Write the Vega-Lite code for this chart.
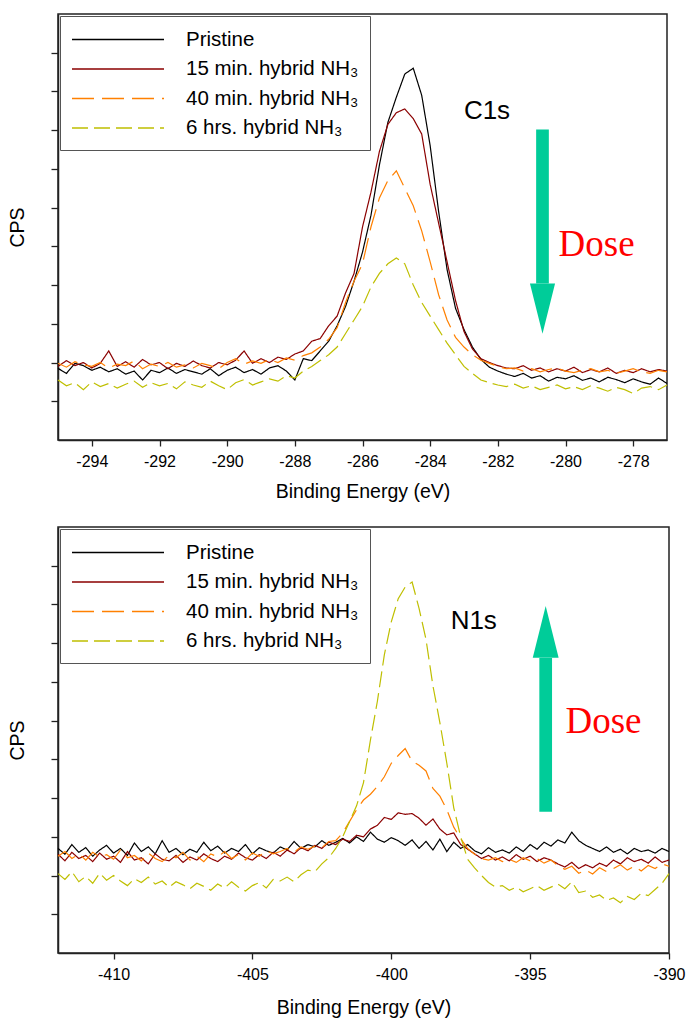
{
"$schema": "https://vega.github.io/schema/vega-lite/v6.json",
"padding": {"left": 6, "top": 13, "right": 0, "bottom": 0},
"spacing": 24,
"config": {
 "font": "Liberation Sans",
 "view": {"stroke": "#222", "strokeWidth": 1.5},
 "axis": {"domainColor": "#222", "domainWidth": 1.5, "tickColor": "#222", "tickWidth": 1.3, "labelColor": "black", "titleColor": "black", "labelFont": "Liberation Sans", "titleFont": "Liberation Sans", "titleFontWeight": "normal", "grid": false, "labelFontSize": 16, "titleFontSize": 19.5},
 "legend": {"orient": "top-left", "offset": 2, "symbolType": "M-1,0L7,0", "symbolSize": 529, "symbolStrokeWidth": 1.5, "labelFontSize": 20.5, "labelFont": "Liberation Sans", "labelColor": "black", "labelOffset": 90, "labelLimit": 400, "padding": 11, "rowPadding": 6.5, "fillColor": "white", "strokeColor": "#555"}
},
"datasets": {
 "c1s": [
{"s":"a","x":-295,"y":1.85},{"s":"a","x":-294.75,"y":1.72},{"s":"a","x":-294.5,"y":1.98},{"s":"a","x":-294.25,"y":1.92},{"s":"a","x":-294,"y":1.80},{"s":"a","x":-293.75,"y":1.88},{"s":"a","x":-293.5,"y":1.76},{"s":"a","x":-293.25,"y":1.84},{"s":"a","x":-293,"y":1.70},{"s":"a","x":-292.75,"y":1.78},{"s":"a","x":-292.5,"y":1.55},{"s":"a","x":-292.25,"y":1.80},{"s":"a","x":-292,"y":1.74},{"s":"a","x":-291.75,"y":1.86},{"s":"a","x":-291.5,"y":1.72},{"s":"a","x":-291.25,"y":1.82},{"s":"a","x":-291,"y":1.76},{"s":"a","x":-290.75,"y":1.70},{"s":"a","x":-290.5,"y":1.84},{"s":"a","x":-290.25,"y":1.66},{"s":"a","x":-290,"y":1.80},{"s":"a","x":-289.75,"y":1.88},{"s":"a","x":-289.5,"y":1.74},{"s":"a","x":-289.25,"y":1.82},{"s":"a","x":-289,"y":1.70},{"s":"a","x":-288.75,"y":1.86},{"s":"a","x":-288.5,"y":1.92},{"s":"a","x":-288.25,"y":1.78},{"s":"a","x":-288,"y":1.55},{"s":"a","x":-287.75,"y":2.10},{"s":"a","x":-287.5,"y":2.05},{"s":"a","x":-287.25,"y":2.30},{"s":"a","x":-287,"y":2.55},{"s":"a","x":-286.75,"y":2.95},{"s":"a","x":-286.5,"y":3.45},{"s":"a","x":-286.25,"y":4.10},{"s":"a","x":-286,"y":4.85},{"s":"a","x":-285.75,"y":5.80},{"s":"a","x":-285.5,"y":7.10},{"s":"a","x":-285.25,"y":8.20},{"s":"a","x":-285,"y":8.85},{"s":"a","x":-284.75,"y":9.45},{"s":"a","x":-284.5,"y":9.60},{"s":"a","x":-284.25,"y":8.90},{"s":"a","x":-284,"y":7.60},{"s":"a","x":-283.75,"y":5.90},{"s":"a","x":-283.5,"y":4.40},{"s":"a","x":-283.25,"y":3.40},{"s":"a","x":-283,"y":2.85},{"s":"a","x":-282.75,"y":2.40},{"s":"a","x":-282.5,"y":2.08},{"s":"a","x":-282.25,"y":1.88},{"s":"a","x":-282,"y":1.78},{"s":"a","x":-281.75,"y":1.70},{"s":"a","x":-281.5,"y":1.64},{"s":"a","x":-281.25,"y":1.72},{"s":"a","x":-281,"y":1.60},{"s":"a","x":-280.75,"y":1.66},{"s":"a","x":-280.5,"y":1.52},{"s":"a","x":-280.25,"y":1.62},{"s":"a","x":-280,"y":1.58},{"s":"a","x":-279.75,"y":1.66},{"s":"a","x":-279.5,"y":1.54},{"s":"a","x":-279.25,"y":1.60},{"s":"a","x":-279,"y":1.50},{"s":"a","x":-278.75,"y":1.62},{"s":"a","x":-278.5,"y":1.56},{"s":"a","x":-278.25,"y":1.48},{"s":"a","x":-278,"y":1.58},{"s":"a","x":-277.75,"y":1.50},{"s":"a","x":-277.5,"y":1.44},{"s":"a","x":-277.25,"y":1.60},{"s":"a","x":-277,"y":1.46},
{"s":"b","x":-295,"y":1.90},{"s":"b","x":-294.75,"y":2.05},{"s":"b","x":-294.5,"y":1.92},{"s":"b","x":-294.25,"y":2.00},{"s":"b","x":-294,"y":1.86},{"s":"b","x":-293.75,"y":1.98},{"s":"b","x":-293.5,"y":2.30},{"s":"b","x":-293.25,"y":1.90},{"s":"b","x":-293,"y":2.02},{"s":"b","x":-292.75,"y":1.88},{"s":"b","x":-292.5,"y":2.08},{"s":"b","x":-292.25,"y":1.94},{"s":"b","x":-292,"y":2.00},{"s":"b","x":-291.75,"y":1.84},{"s":"b","x":-291.5,"y":1.98},{"s":"b","x":-291.25,"y":1.90},{"s":"b","x":-291,"y":2.04},{"s":"b","x":-290.75,"y":1.92},{"s":"b","x":-290.5,"y":1.86},{"s":"b","x":-290.25,"y":2.00},{"s":"b","x":-290,"y":1.94},{"s":"b","x":-289.75,"y":2.06},{"s":"b","x":-289.5,"y":2.30},{"s":"b","x":-289.25,"y":1.98},{"s":"b","x":-289,"y":2.10},{"s":"b","x":-288.75,"y":2.00},{"s":"b","x":-288.5,"y":2.14},{"s":"b","x":-288.25,"y":2.08},{"s":"b","x":-288,"y":2.22},{"s":"b","x":-287.75,"y":2.30},{"s":"b","x":-287.5,"y":2.55},{"s":"b","x":-287.25,"y":2.62},{"s":"b","x":-287,"y":2.95},{"s":"b","x":-286.75,"y":3.20},{"s":"b","x":-286.5,"y":3.80},{"s":"b","x":-286.25,"y":4.30},{"s":"b","x":-286,"y":5.50},{"s":"b","x":-285.75,"y":6.40},{"s":"b","x":-285.5,"y":7.45},{"s":"b","x":-285.25,"y":8.15},{"s":"b","x":-285,"y":8.45},{"s":"b","x":-284.75,"y":8.55},{"s":"b","x":-284.5,"y":8.30},{"s":"b","x":-284.25,"y":7.90},{"s":"b","x":-284,"y":6.60},{"s":"b","x":-283.75,"y":5.60},{"s":"b","x":-283.5,"y":4.60},{"s":"b","x":-283.25,"y":3.60},{"s":"b","x":-283,"y":2.80},{"s":"b","x":-282.75,"y":2.35},{"s":"b","x":-282.5,"y":2.10},{"s":"b","x":-282.25,"y":2.00},{"s":"b","x":-282,"y":1.92},{"s":"b","x":-281.75,"y":1.86},{"s":"b","x":-281.5,"y":1.84},{"s":"b","x":-281.25,"y":1.92},{"s":"b","x":-281,"y":1.80},{"s":"b","x":-280.75,"y":1.86},{"s":"b","x":-280.5,"y":1.76},{"s":"b","x":-280.25,"y":1.84},{"s":"b","x":-280,"y":1.78},{"s":"b","x":-279.75,"y":1.88},{"s":"b","x":-279.5,"y":1.74},{"s":"b","x":-279.25,"y":1.82},{"s":"b","x":-279,"y":1.76},{"s":"b","x":-278.75,"y":1.86},{"s":"b","x":-278.5,"y":1.72},{"s":"b","x":-278.25,"y":1.80},{"s":"b","x":-278,"y":1.74},{"s":"b","x":-277.75,"y":1.84},{"s":"b","x":-277.5,"y":1.76},{"s":"b","x":-277.25,"y":1.82},{"s":"b","x":-277,"y":1.78},
{"s":"c","x":-295,"y":1.98},{"s":"c","x":-294.75,"y":1.88},{"s":"c","x":-294.5,"y":2.02},{"s":"c","x":-294.25,"y":1.94},{"s":"c","x":-294,"y":1.90},{"s":"c","x":-293.75,"y":2.00},{"s":"c","x":-293.5,"y":1.86},{"s":"c","x":-293.25,"y":1.96},{"s":"c","x":-293,"y":1.92},{"s":"c","x":-292.75,"y":2.04},{"s":"c","x":-292.5,"y":1.84},{"s":"c","x":-292.25,"y":1.96},{"s":"c","x":-292,"y":1.90},{"s":"c","x":-291.75,"y":2.00},{"s":"c","x":-291.5,"y":1.88},{"s":"c","x":-291.25,"y":1.94},{"s":"c","x":-291,"y":1.86},{"s":"c","x":-290.75,"y":1.98},{"s":"c","x":-290.5,"y":1.92},{"s":"c","x":-290.25,"y":1.84},{"s":"c","x":-290,"y":2.00},{"s":"c","x":-289.75,"y":2.10},{"s":"c","x":-289.5,"y":1.96},{"s":"c","x":-289.25,"y":2.04},{"s":"c","x":-289,"y":1.98},{"s":"c","x":-288.75,"y":2.08},{"s":"c","x":-288.5,"y":2.00},{"s":"c","x":-288.25,"y":2.12},{"s":"c","x":-288,"y":2.06},{"s":"c","x":-287.75,"y":2.18},{"s":"c","x":-287.5,"y":2.25},{"s":"c","x":-287.25,"y":2.40},{"s":"c","x":-287,"y":2.60},{"s":"c","x":-286.75,"y":2.90},{"s":"c","x":-286.5,"y":3.55},{"s":"c","x":-286.25,"y":4.10},{"s":"c","x":-286,"y":4.55},{"s":"c","x":-285.75,"y":5.50},{"s":"c","x":-285.5,"y":6.25},{"s":"c","x":-285.25,"y":6.70},{"s":"c","x":-285,"y":6.95},{"s":"c","x":-284.75,"y":6.50},{"s":"c","x":-284.5,"y":6.05},{"s":"c","x":-284.25,"y":5.40},{"s":"c","x":-284,"y":4.60},{"s":"c","x":-283.75,"y":3.75},{"s":"c","x":-283.5,"y":3.10},{"s":"c","x":-283.25,"y":2.65},{"s":"c","x":-283,"y":2.40},{"s":"c","x":-282.75,"y":2.20},{"s":"c","x":-282.5,"y":2.06},{"s":"c","x":-282.25,"y":1.98},{"s":"c","x":-282,"y":1.90},{"s":"c","x":-281.75,"y":1.84},{"s":"c","x":-281.5,"y":1.86},{"s":"c","x":-281.25,"y":1.78},{"s":"c","x":-281,"y":1.84},{"s":"c","x":-280.75,"y":1.76},{"s":"c","x":-280.5,"y":1.82},{"s":"c","x":-280.25,"y":1.86},{"s":"c","x":-280,"y":1.78},{"s":"c","x":-279.75,"y":1.74},{"s":"c","x":-279.5,"y":1.80},{"s":"c","x":-279.25,"y":1.84},{"s":"c","x":-279,"y":1.76},{"s":"c","x":-278.75,"y":1.80},{"s":"c","x":-278.5,"y":1.72},{"s":"c","x":-278.25,"y":1.78},{"s":"c","x":-278,"y":1.84},{"s":"c","x":-277.75,"y":1.76},{"s":"c","x":-277.5,"y":1.72},{"s":"c","x":-277.25,"y":1.80},{"s":"c","x":-277,"y":1.76},
{"s":"d","x":-295,"y":1.55},{"s":"d","x":-294.75,"y":1.40},{"s":"d","x":-294.5,"y":1.48},{"s":"d","x":-294.25,"y":1.30},{"s":"d","x":-294,"y":1.50},{"s":"d","x":-293.75,"y":1.38},{"s":"d","x":-293.5,"y":1.46},{"s":"d","x":-293.25,"y":1.34},{"s":"d","x":-293,"y":1.44},{"s":"d","x":-292.75,"y":1.52},{"s":"d","x":-292.5,"y":1.36},{"s":"d","x":-292.25,"y":1.48},{"s":"d","x":-292,"y":1.40},{"s":"d","x":-291.75,"y":1.46},{"s":"d","x":-291.5,"y":1.32},{"s":"d","x":-291.25,"y":1.50},{"s":"d","x":-291,"y":1.42},{"s":"d","x":-290.75,"y":1.36},{"s":"d","x":-290.5,"y":1.52},{"s":"d","x":-290.25,"y":1.40},{"s":"d","x":-290,"y":1.30},{"s":"d","x":-289.75,"y":1.48},{"s":"d","x":-289.5,"y":1.56},{"s":"d","x":-289.25,"y":1.42},{"s":"d","x":-289,"y":1.50},{"s":"d","x":-288.75,"y":1.58},{"s":"d","x":-288.5,"y":1.52},{"s":"d","x":-288.25,"y":1.66},{"s":"d","x":-288,"y":1.60},{"s":"d","x":-287.75,"y":1.78},{"s":"d","x":-287.5,"y":1.90},{"s":"d","x":-287.25,"y":2.05},{"s":"d","x":-287,"y":2.20},{"s":"d","x":-286.75,"y":2.40},{"s":"d","x":-286.5,"y":2.75},{"s":"d","x":-286.25,"y":3.10},{"s":"d","x":-286,"y":3.45},{"s":"d","x":-285.75,"y":3.95},{"s":"d","x":-285.5,"y":4.30},{"s":"d","x":-285.25,"y":4.55},{"s":"d","x":-285,"y":4.70},{"s":"d","x":-284.75,"y":4.55},{"s":"d","x":-284.5,"y":4.00},{"s":"d","x":-284.25,"y":3.55},{"s":"d","x":-284,"y":3.20},{"s":"d","x":-283.75,"y":2.85},{"s":"d","x":-283.5,"y":2.50},{"s":"d","x":-283.25,"y":2.20},{"s":"d","x":-283,"y":1.90},{"s":"d","x":-282.75,"y":1.72},{"s":"d","x":-282.5,"y":1.55},{"s":"d","x":-282.25,"y":1.48},{"s":"d","x":-282,"y":1.42},{"s":"d","x":-281.75,"y":1.38},{"s":"d","x":-281.5,"y":1.44},{"s":"d","x":-281.25,"y":1.34},{"s":"d","x":-281,"y":1.40},{"s":"d","x":-280.75,"y":1.30},{"s":"d","x":-280.5,"y":1.36},{"s":"d","x":-280.25,"y":1.42},{"s":"d","x":-280,"y":1.32},{"s":"d","x":-279.75,"y":1.38},{"s":"d","x":-279.5,"y":1.30},{"s":"d","x":-279.25,"y":1.40},{"s":"d","x":-279,"y":1.34},{"s":"d","x":-278.75,"y":1.26},{"s":"d","x":-278.5,"y":1.36},{"s":"d","x":-278.25,"y":1.30},{"s":"d","x":-278,"y":1.20},{"s":"d","x":-277.75,"y":1.34},{"s":"d","x":-277.5,"y":1.38},{"s":"d","x":-277.25,"y":1.30},{"s":"d","x":-277,"y":1.42}
 ],
 "n1s": [
{"s":"a","x":-412,"y":2.70},{"s":"a","x":-411.75,"y":2.55},{"s":"a","x":-411.5,"y":2.80},{"s":"a","x":-411.25,"y":2.60},{"s":"a","x":-411,"y":2.72},{"s":"a","x":-410.75,"y":2.50},{"s":"a","x":-410.5,"y":2.66},{"s":"a","x":-410.25,"y":2.78},{"s":"a","x":-410,"y":2.58},{"s":"a","x":-409.75,"y":2.70},{"s":"a","x":-409.5,"y":2.52},{"s":"a","x":-409.25,"y":2.84},{"s":"a","x":-409,"y":2.62},{"s":"a","x":-408.75,"y":2.74},{"s":"a","x":-408.5,"y":2.56},{"s":"a","x":-408.25,"y":2.90},{"s":"a","x":-408,"y":2.60},{"s":"a","x":-407.75,"y":2.70},{"s":"a","x":-407.5,"y":2.54},{"s":"a","x":-407.25,"y":2.68},{"s":"a","x":-407,"y":2.60},{"s":"a","x":-406.75,"y":2.86},{"s":"a","x":-406.5,"y":2.64},{"s":"a","x":-406.25,"y":2.76},{"s":"a","x":-406,"y":2.58},{"s":"a","x":-405.75,"y":2.70},{"s":"a","x":-405.5,"y":2.62},{"s":"a","x":-405.25,"y":2.80},{"s":"a","x":-405,"y":2.56},{"s":"a","x":-404.75,"y":2.72},{"s":"a","x":-404.5,"y":2.64},{"s":"a","x":-404.25,"y":2.58},{"s":"a","x":-404,"y":2.74},{"s":"a","x":-403.75,"y":2.66},{"s":"a","x":-403.5,"y":2.88},{"s":"a","x":-403.25,"y":2.70},{"s":"a","x":-403,"y":2.80},{"s":"a","x":-402.75,"y":2.74},{"s":"a","x":-402.5,"y":2.90},{"s":"a","x":-402.25,"y":2.78},{"s":"a","x":-402,"y":2.86},{"s":"a","x":-401.75,"y":2.96},{"s":"a","x":-401.5,"y":2.84},{"s":"a","x":-401.25,"y":3.00},{"s":"a","x":-401,"y":2.88},{"s":"a","x":-400.75,"y":3.12},{"s":"a","x":-400.5,"y":2.94},{"s":"a","x":-400.25,"y":2.86},{"s":"a","x":-400,"y":2.98},{"s":"a","x":-399.75,"y":2.90},{"s":"a","x":-399.5,"y":2.78},{"s":"a","x":-399.25,"y":2.92},{"s":"a","x":-399,"y":2.70},{"s":"a","x":-398.75,"y":2.88},{"s":"a","x":-398.5,"y":2.66},{"s":"a","x":-398.25,"y":2.94},{"s":"a","x":-398,"y":2.62},{"s":"a","x":-397.75,"y":2.86},{"s":"a","x":-397.5,"y":2.70},{"s":"a","x":-397.25,"y":2.80},{"s":"a","x":-397,"y":2.64},{"s":"a","x":-396.75,"y":2.56},{"s":"a","x":-396.5,"y":2.72},{"s":"a","x":-396.25,"y":2.60},{"s":"a","x":-396,"y":2.66},{"s":"a","x":-395.75,"y":2.58},{"s":"a","x":-395.5,"y":2.74},{"s":"a","x":-395.25,"y":2.62},{"s":"a","x":-395,"y":2.80},{"s":"a","x":-394.75,"y":2.68},{"s":"a","x":-394.5,"y":2.86},{"s":"a","x":-394.25,"y":2.76},{"s":"a","x":-394,"y":2.92},{"s":"a","x":-393.75,"y":2.84},{"s":"a","x":-393.5,"y":3.12},{"s":"a","x":-393.25,"y":2.90},{"s":"a","x":-393,"y":2.78},{"s":"a","x":-392.75,"y":2.70},{"s":"a","x":-392.5,"y":2.62},{"s":"a","x":-392.25,"y":2.74},{"s":"a","x":-392,"y":2.60},{"s":"a","x":-391.75,"y":2.68},{"s":"a","x":-391.5,"y":2.56},{"s":"a","x":-391.25,"y":2.70},{"s":"a","x":-391,"y":2.62},{"s":"a","x":-390.75,"y":2.66},{"s":"a","x":-390.5,"y":2.58},{"s":"a","x":-390.25,"y":2.70},{"s":"a","x":-390,"y":2.62},
{"s":"b","x":-412,"y":2.55},{"s":"b","x":-411.75,"y":2.38},{"s":"b","x":-411.5,"y":2.60},{"s":"b","x":-411.25,"y":2.44},{"s":"b","x":-411,"y":2.52},{"s":"b","x":-410.75,"y":2.36},{"s":"b","x":-410.5,"y":2.58},{"s":"b","x":-410.25,"y":2.42},{"s":"b","x":-410,"y":2.50},{"s":"b","x":-409.75,"y":2.34},{"s":"b","x":-409.5,"y":2.62},{"s":"b","x":-409.25,"y":2.40},{"s":"b","x":-409,"y":2.46},{"s":"b","x":-408.75,"y":2.30},{"s":"b","x":-408.5,"y":2.56},{"s":"b","x":-408.25,"y":2.42},{"s":"b","x":-408,"y":2.38},{"s":"b","x":-407.75,"y":2.52},{"s":"b","x":-407.5,"y":2.34},{"s":"b","x":-407.25,"y":2.48},{"s":"b","x":-407,"y":2.40},{"s":"b","x":-406.75,"y":2.56},{"s":"b","x":-406.5,"y":2.44},{"s":"b","x":-406.25,"y":2.36},{"s":"b","x":-406,"y":2.50},{"s":"b","x":-405.75,"y":2.42},{"s":"b","x":-405.5,"y":2.58},{"s":"b","x":-405.25,"y":2.46},{"s":"b","x":-405,"y":2.40},{"s":"b","x":-404.75,"y":2.54},{"s":"b","x":-404.5,"y":2.44},{"s":"b","x":-404.25,"y":2.60},{"s":"b","x":-404,"y":2.50},{"s":"b","x":-403.75,"y":2.66},{"s":"b","x":-403.5,"y":2.56},{"s":"b","x":-403.25,"y":2.72},{"s":"b","x":-403,"y":2.64},{"s":"b","x":-402.75,"y":2.78},{"s":"b","x":-402.5,"y":2.70},{"s":"b","x":-402.25,"y":2.86},{"s":"b","x":-402,"y":2.80},{"s":"b","x":-401.75,"y":2.94},{"s":"b","x":-401.5,"y":2.88},{"s":"b","x":-401.25,"y":3.04},{"s":"b","x":-401,"y":3.00},{"s":"b","x":-400.75,"y":3.20},{"s":"b","x":-400.5,"y":3.30},{"s":"b","x":-400.25,"y":3.50},{"s":"b","x":-400,"y":3.45},{"s":"b","x":-399.75,"y":3.62},{"s":"b","x":-399.5,"y":3.58},{"s":"b","x":-399.25,"y":3.60},{"s":"b","x":-399,"y":3.48},{"s":"b","x":-398.75,"y":3.30},{"s":"b","x":-398.5,"y":3.46},{"s":"b","x":-398.25,"y":3.20},{"s":"b","x":-398,"y":3.05},{"s":"b","x":-397.75,"y":3.10},{"s":"b","x":-397.5,"y":2.80},{"s":"b","x":-397.25,"y":2.68},{"s":"b","x":-397,"y":2.56},{"s":"b","x":-396.75,"y":2.44},{"s":"b","x":-396.5,"y":2.52},{"s":"b","x":-396.25,"y":2.40},{"s":"b","x":-396,"y":2.48},{"s":"b","x":-395.75,"y":2.38},{"s":"b","x":-395.5,"y":2.54},{"s":"b","x":-395.25,"y":2.42},{"s":"b","x":-395,"y":2.50},{"s":"b","x":-394.75,"y":2.36},{"s":"b","x":-394.5,"y":2.46},{"s":"b","x":-394.25,"y":2.40},{"s":"b","x":-394,"y":2.30},{"s":"b","x":-393.75,"y":2.22},{"s":"b","x":-393.5,"y":2.34},{"s":"b","x":-393.25,"y":2.18},{"s":"b","x":-393,"y":2.28},{"s":"b","x":-392.75,"y":2.20},{"s":"b","x":-392.5,"y":2.32},{"s":"b","x":-392.25,"y":2.24},{"s":"b","x":-392,"y":2.40},{"s":"b","x":-391.75,"y":2.30},{"s":"b","x":-391.5,"y":2.46},{"s":"b","x":-391.25,"y":2.36},{"s":"b","x":-391,"y":2.42},{"s":"b","x":-390.75,"y":2.32},{"s":"b","x":-390.5,"y":2.48},{"s":"b","x":-390.25,"y":2.34},{"s":"b","x":-390,"y":2.40},
{"s":"c","x":-412,"y":2.50},{"s":"c","x":-411.75,"y":2.62},{"s":"c","x":-411.5,"y":2.44},{"s":"c","x":-411.25,"y":2.56},{"s":"c","x":-411,"y":2.40},{"s":"c","x":-410.75,"y":2.60},{"s":"c","x":-410.5,"y":2.48},{"s":"c","x":-410.25,"y":2.54},{"s":"c","x":-410,"y":2.42},{"s":"c","x":-409.75,"y":2.66},{"s":"c","x":-409.5,"y":2.46},{"s":"c","x":-409.25,"y":2.52},{"s":"c","x":-409,"y":2.38},{"s":"c","x":-408.75,"y":2.58},{"s":"c","x":-408.5,"y":2.44},{"s":"c","x":-408.25,"y":2.36},{"s":"c","x":-408,"y":2.52},{"s":"c","x":-407.75,"y":2.46},{"s":"c","x":-407.5,"y":2.60},{"s":"c","x":-407.25,"y":2.40},{"s":"c","x":-407,"y":2.50},{"s":"c","x":-406.75,"y":2.36},{"s":"c","x":-406.5,"y":2.56},{"s":"c","x":-406.25,"y":2.48},{"s":"c","x":-406,"y":2.62},{"s":"c","x":-405.75,"y":2.44},{"s":"c","x":-405.5,"y":2.54},{"s":"c","x":-405.25,"y":2.40},{"s":"c","x":-405,"y":2.58},{"s":"c","x":-404.75,"y":2.50},{"s":"c","x":-404.5,"y":2.64},{"s":"c","x":-404.25,"y":2.56},{"s":"c","x":-404,"y":2.62},{"s":"c","x":-403.75,"y":2.70},{"s":"c","x":-403.5,"y":2.60},{"s":"c","x":-403.25,"y":2.74},{"s":"c","x":-403,"y":2.68},{"s":"c","x":-402.75,"y":2.76},{"s":"c","x":-402.5,"y":2.72},{"s":"c","x":-402.25,"y":2.88},{"s":"c","x":-402,"y":2.90},{"s":"c","x":-401.75,"y":3.10},{"s":"c","x":-401.5,"y":3.40},{"s":"c","x":-401.25,"y":3.70},{"s":"c","x":-401,"y":3.95},{"s":"c","x":-400.75,"y":4.10},{"s":"c","x":-400.5,"y":4.30},{"s":"c","x":-400.25,"y":4.55},{"s":"c","x":-400,"y":4.90},{"s":"c","x":-399.75,"y":5.10},{"s":"c","x":-399.5,"y":5.28},{"s":"c","x":-399.25,"y":4.95},{"s":"c","x":-399,"y":4.85},{"s":"c","x":-398.75,"y":4.70},{"s":"c","x":-398.5,"y":4.25},{"s":"c","x":-398.25,"y":4.05},{"s":"c","x":-398,"y":3.70},{"s":"c","x":-397.75,"y":3.25},{"s":"c","x":-397.5,"y":2.95},{"s":"c","x":-397.25,"y":2.70},{"s":"c","x":-397,"y":2.55},{"s":"c","x":-396.75,"y":2.44},{"s":"c","x":-396.5,"y":2.40},{"s":"c","x":-396.25,"y":2.46},{"s":"c","x":-396,"y":2.36},{"s":"c","x":-395.75,"y":2.42},{"s":"c","x":-395.5,"y":2.34},{"s":"c","x":-395.25,"y":2.46},{"s":"c","x":-395,"y":2.38},{"s":"c","x":-394.75,"y":2.44},{"s":"c","x":-394.5,"y":2.32},{"s":"c","x":-394.25,"y":2.40},{"s":"c","x":-394,"y":2.26},{"s":"c","x":-393.75,"y":2.16},{"s":"c","x":-393.5,"y":2.24},{"s":"c","x":-393.25,"y":2.06},{"s":"c","x":-393,"y":2.14},{"s":"c","x":-392.75,"y":2.04},{"s":"c","x":-392.5,"y":2.20},{"s":"c","x":-392.25,"y":2.10},{"s":"c","x":-392,"y":2.18},{"s":"c","x":-391.75,"y":2.28},{"s":"c","x":-391.5,"y":2.14},{"s":"c","x":-391.25,"y":2.24},{"s":"c","x":-391,"y":2.12},{"s":"c","x":-390.75,"y":2.26},{"s":"c","x":-390.5,"y":2.18},{"s":"c","x":-390.25,"y":2.30},{"s":"c","x":-390,"y":2.24},
{"s":"d","x":-412,"y":2.05},{"s":"d","x":-411.75,"y":1.90},{"s":"d","x":-411.5,"y":2.10},{"s":"d","x":-411.25,"y":1.84},{"s":"d","x":-411,"y":1.98},{"s":"d","x":-410.75,"y":1.80},{"s":"d","x":-410.5,"y":2.06},{"s":"d","x":-410.25,"y":1.88},{"s":"d","x":-410,"y":2.00},{"s":"d","x":-409.75,"y":1.86},{"s":"d","x":-409.5,"y":1.74},{"s":"d","x":-409.25,"y":1.92},{"s":"d","x":-409,"y":1.82},{"s":"d","x":-408.75,"y":1.96},{"s":"d","x":-408.5,"y":1.78},{"s":"d","x":-408.25,"y":1.86},{"s":"d","x":-408,"y":1.70},{"s":"d","x":-407.75,"y":1.84},{"s":"d","x":-407.5,"y":1.76},{"s":"d","x":-407.25,"y":1.66},{"s":"d","x":-407,"y":1.80},{"s":"d","x":-406.75,"y":1.72},{"s":"d","x":-406.5,"y":1.62},{"s":"d","x":-406.25,"y":1.78},{"s":"d","x":-406,"y":1.68},{"s":"d","x":-405.75,"y":1.84},{"s":"d","x":-405.5,"y":1.70},{"s":"d","x":-405.25,"y":1.60},{"s":"d","x":-405,"y":1.74},{"s":"d","x":-404.75,"y":1.82},{"s":"d","x":-404.5,"y":1.68},{"s":"d","x":-404.25,"y":1.90},{"s":"d","x":-404,"y":1.86},{"s":"d","x":-403.75,"y":1.96},{"s":"d","x":-403.5,"y":1.84},{"s":"d","x":-403.25,"y":2.02},{"s":"d","x":-403,"y":2.14},{"s":"d","x":-402.75,"y":2.10},{"s":"d","x":-402.5,"y":2.30},{"s":"d","x":-402.25,"y":2.46},{"s":"d","x":-402,"y":2.70},{"s":"d","x":-401.75,"y":3.00},{"s":"d","x":-401.5,"y":3.40},{"s":"d","x":-401.25,"y":3.80},{"s":"d","x":-401,"y":4.40},{"s":"d","x":-400.75,"y":5.50},{"s":"d","x":-400.5,"y":6.50},{"s":"d","x":-400.25,"y":7.70},{"s":"d","x":-400,"y":8.55},{"s":"d","x":-399.75,"y":9.15},{"s":"d","x":-399.5,"y":9.45},{"s":"d","x":-399.25,"y":9.58},{"s":"d","x":-399,"y":8.90},{"s":"d","x":-398.75,"y":8.10},{"s":"d","x":-398.5,"y":6.90},{"s":"d","x":-398.25,"y":5.95},{"s":"d","x":-398,"y":4.90},{"s":"d","x":-397.75,"y":3.75},{"s":"d","x":-397.5,"y":3.00},{"s":"d","x":-397.25,"y":2.42},{"s":"d","x":-397,"y":2.20},{"s":"d","x":-396.75,"y":2.00},{"s":"d","x":-396.5,"y":1.82},{"s":"d","x":-396.25,"y":1.70},{"s":"d","x":-396,"y":1.74},{"s":"d","x":-395.75,"y":1.62},{"s":"d","x":-395.5,"y":1.70},{"s":"d","x":-395.25,"y":1.58},{"s":"d","x":-395,"y":1.66},{"s":"d","x":-394.75,"y":1.74},{"s":"d","x":-394.5,"y":1.62},{"s":"d","x":-394.25,"y":1.70},{"s":"d","x":-394,"y":1.78},{"s":"d","x":-393.75,"y":1.66},{"s":"d","x":-393.5,"y":1.84},{"s":"d","x":-393.25,"y":1.56},{"s":"d","x":-393,"y":1.60},{"s":"d","x":-392.75,"y":1.44},{"s":"d","x":-392.5,"y":1.50},{"s":"d","x":-392.25,"y":1.36},{"s":"d","x":-392,"y":1.42},{"s":"d","x":-391.75,"y":1.30},{"s":"d","x":-391.5,"y":1.46},{"s":"d","x":-391.25,"y":1.38},{"s":"d","x":-391,"y":1.54},{"s":"d","x":-390.75,"y":1.48},{"s":"d","x":-390.5,"y":1.64},{"s":"d","x":-390.25,"y":1.80},{"s":"d","x":-390,"y":2.05}
 ]
},
"vconcat": [
 {
  "width": 609, "height": 426,
  "encoding": {
   "x": {"field": "x", "type": "quantitative", "scale": {"domain": [-295, -277], "nice": false, "zero": false}, "axis": {"values": [-294,-292,-290,-288,-286,-284,-282,-280,-278], "labelExpr": "'' + datum.value", "tickSize": 6, "labelPadding": 7, "titlePadding": 13, "title": "Binding Energy (eV)", "labelFlush": false, "labelOverlap": false}},
   "y": {"field": "y", "type": "quantitative", "scale": {"domain": [0, 11], "nice": false, "zero": false}, "axis": {"values": [1,2,3,4,5,6,7,8,9,10], "labels": false, "tickSize": 7, "title": "CPS", "titlePadding": 23}}
  },
  "layer": [
   {"data": {"name": "c1s"}, "mark": {"type": "line", "strokeWidth": 1.2},
    "encoding": {
     "color": {"field": "s", "type": "nominal", "scale": {"domain": ["a","b","c","d"], "range": ["#000000","#8B0000","#FF8000","#BFBF00"]}, "legend": {"title": null, "labelExpr": "datum.label == 'a' ? 'Pristine' : datum.label == 'b' ? '15 min. hybrid NH₃' : datum.label == 'c' ? '40 min. hybrid NH₃' : '6 hrs. hybrid NH₃'"}},
     "strokeDash": {"field": "s", "type": "nominal", "scale": {"domain": ["a","b","c","d"], "range": [[1,0],[1,0],[22,8],[16,6]]}, "legend": {"title": null, "labelExpr": "datum.label == 'a' ? 'Pristine' : datum.label == 'b' ? '15 min. hybrid NH₃' : datum.label == 'c' ? '40 min. hybrid NH₃' : '6 hrs. hybrid NH₃'"}}
    }},
   {"data": {"values": [{"x": -280.68, "y": 8.02, "y2": 4.04}]}, "mark": {"type": "rule", "color": "#00CC99", "strokeWidth": 12.7, "strokeCap": "butt"}, "encoding": {"y2": {"field": "y2"}}},
   {"data": {"values": [{"x": -280.68, "y": 3.39}]}, "mark": {"type": "point", "shape": "M-0.5,-1L0.5,-1L0,1Z", "size": 2530, "filled": true, "color": "#00CC99", "opacity": 1, "strokeWidth": 0}},
   {"data": {"values": [{"x": -282.32, "y": 8.49, "t": "C1s"}]}, "mark": {"type": "text", "fontSize": 26, "font": "Liberation Sans", "color": "black"}, "encoding": {"text": {"field": "t"}}},
   {"data": {"values": [{"x": -279.08, "y": 5.03, "t": "Dose"}]}, "mark": {"type": "text", "fontSize": 37, "font": "Liberation Serif", "color": "#FF0000"}, "encoding": {"text": {"field": "t"}}}
  ]
 },
 {
  "width": 611, "height": 426,
  "encoding": {
   "x": {"field": "x", "type": "quantitative", "scale": {"domain": [-412, -390], "nice": false, "zero": false}, "axis": {"values": [-410,-405,-400,-395,-390], "labelExpr": "'' + datum.value", "tickSize": 6, "labelPadding": 7, "titlePadding": 16, "title": "Binding Energy (eV)", "labelFlush": false, "labelOverlap": false}},
   "y": {"field": "y", "type": "quantitative", "scale": {"domain": [0, 11], "nice": false, "zero": false}, "axis": {"values": [1,2,3,4,5,6,7,8,9,10], "labels": false, "tickSize": 7, "title": "CPS", "titlePadding": 23}}
  },
  "layer": [
   {"data": {"name": "n1s"}, "mark": {"type": "line", "strokeWidth": 1.2},
    "encoding": {
     "color": {"field": "s", "type": "nominal", "scale": {"domain": ["a","b","c","d"], "range": ["#000000","#8B0000","#FF8000","#BFBF00"]}, "legend": {"title": null, "labelExpr": "datum.label == 'a' ? 'Pristine' : datum.label == 'b' ? '15 min. hybrid NH₃' : datum.label == 'c' ? '40 min. hybrid NH₃' : '6 hrs. hybrid NH₃'"}},
     "strokeDash": {"field": "s", "type": "nominal", "scale": {"domain": ["a","b","c","d"], "range": [[1,0],[1,0],[22,8],[16,6]]}, "legend": {"title": null, "labelExpr": "datum.label == 'a' ? 'Pristine' : datum.label == 'b' ? '15 min. hybrid NH₃' : datum.label == 'c' ? '40 min. hybrid NH₃' : '6 hrs. hybrid NH₃'"}}
    }},
   {"data": {"values": [{"x": -394.44, "y": 3.65, "y2": 7.62}]}, "mark": {"type": "rule", "color": "#00CC99", "strokeWidth": 12.7, "strokeCap": "butt"}, "encoding": {"y2": {"field": "y2"}}},
   {"data": {"values": [{"x": -394.44, "y": 8.29}]}, "mark": {"type": "point", "shape": "M-0.5,1L0.5,1L0,-1Z", "size": 2670, "filled": true, "color": "#00CC99", "opacity": 1, "strokeWidth": 0}},
   {"data": {"values": [{"x": -397.03, "y": 8.57, "t": "N1s"}]}, "mark": {"type": "text", "fontSize": 26, "font": "Liberation Sans", "color": "black"}, "encoding": {"text": {"field": "t"}}},
   {"data": {"values": [{"x": -392.36, "y": 5.97, "t": "Dose"}]}, "mark": {"type": "text", "fontSize": 37, "font": "Liberation Serif", "color": "#FF0000"}, "encoding": {"text": {"field": "t"}}}
  ]
 }
],
"resolve": {"scale": {"color": "independent", "strokeDash": "independent"}}
}
